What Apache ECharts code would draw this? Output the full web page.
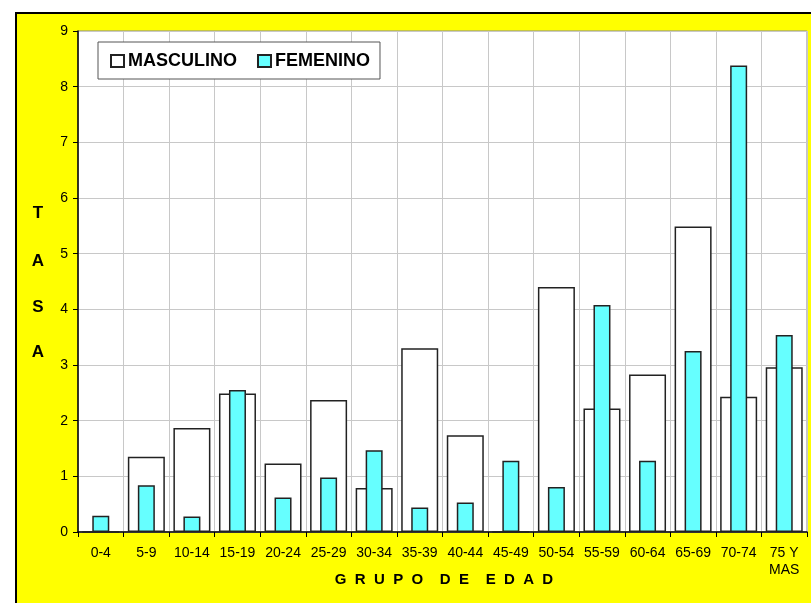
<!DOCTYPE html>
<html>
<head>
<meta charset="utf-8">
<script src="https://cdn.jsdelivr.net/npm/echarts@6/dist/echarts.min.js"></script>
<style>
html,body{margin:0;padding:0;background:#fff;}
#c{width:811px;height:603px;}
</style>
</head>
<body>
<div id="c"></div>
<script>
var categories = ['0-4','5-9','10-14','15-19','20-24','25-29','30-34','35-39','40-44','45-49','50-54','55-59','60-64','65-69','70-74','75 Y\nMAS'];
var masculino = [0, 1.35, 1.87, 2.49, 1.23, 2.37, 0.79, 3.30, 1.74, 0, 4.40, 2.22, 2.83, 5.49, 2.43, 2.96];
var femenino = [0.29, 0.84, 0.28, 2.55, 0.62, 0.98, 1.47, 0.44, 0.53, 1.28, 0.81, 4.08, 1.28, 3.25, 8.38, 3.54];
var yTicks = [0, 9, 1];

var FONT = "'Liberation Sans', Arial, sans-serif";
function letter(t, y) {
  return {type:'text', x:38, y:y, style:{text:t, font:'bold 17px '+FONT, fill:'#000', align:'center', verticalAlign:'middle'}};
}
var chart = echarts.init(document.getElementById('c'));
chart.setOption({
  backgroundColor: '#ffffff',
  animation: false,
  graphic: [
    {type:'rect', z:-10, shape:{x:16, y:13, width:810, height:610}, style:{fill:'#ffff00', stroke:'#000', lineWidth:2}},
    letter('T', 213), letter('A', 261), letter('S', 307), letter('A', 352),
    {type:'text', x:444, y:580, style:{text:'G  R  U  P  O    D  E    E  D  A  D', font:'bold 15px '+FONT, fill:'#000', align:'center', verticalAlign:'middle'}}
  ],
  legend: {
    left: 98, top: 42,
    padding: [10, 10, 9, 12],
    backgroundColor: '#fff',
    borderColor: '#555',
    borderWidth: 1,
    itemWidth: 13, itemHeight: 12,
    itemGap: 20,
    icon: 'rect',
    textStyle: {fontFamily: FONT, fontWeight: 'bold', fontSize: 18, color: '#000', padding:[0,0,0,-1]},
    data: ['MASCULINO', 'FEMENINO']
  },
  grid: {left: 78, right: 4, top: 31, bottom: 71, show: true, backgroundColor: '#fff', borderColor: '#888', borderWidth: 1},
  xAxis: [{
    type: 'category', data: categories,
    axisLine: {show: true, lineStyle: {color: '#000', width: 1.5}},
    axisTick: {show: true, interval: 0, length: 5, lineStyle: {color: '#000'}},
    splitLine: {show: true, interval: 0, lineStyle: {color: '#c8c8c8', width: 1}},
    axisLabel: {interval: 0, fontFamily: FONT, fontSize: 14, color: '#000', margin: 13, lineHeight: 17}
  }, {
    type: 'category', data: categories, show: false
  }],
  yAxis: {
    type: 'value', min: yTicks[0], max: yTicks[1], interval: yTicks[2],
    axisLine: {show: true, lineStyle: {color: '#000', width: 1.5}},
    axisTick: {show: true, length: 5, lineStyle: {color: '#000'}},
    splitLine: {show: true, lineStyle: {color: '#c8c8c8', width: 1}},
    axisLabel: {fontFamily: FONT, fontSize: 14, color: '#000', margin: 10}
  },
  series: [{
    name: 'MASCULINO', type: 'bar', xAxisIndex: 0, data: masculino, barWidth: 37,
    itemStyle: {color: '#ffffff', borderColor: '#222', borderWidth: 1.5}
  }, {
    name: 'FEMENINO', type: 'bar', xAxisIndex: 1, data: femenino, barWidth: 17,
    itemStyle: {color: '#66ffff', borderColor: '#222', borderWidth: 1.5}
  }]
});
</script>
</body>
</html>
